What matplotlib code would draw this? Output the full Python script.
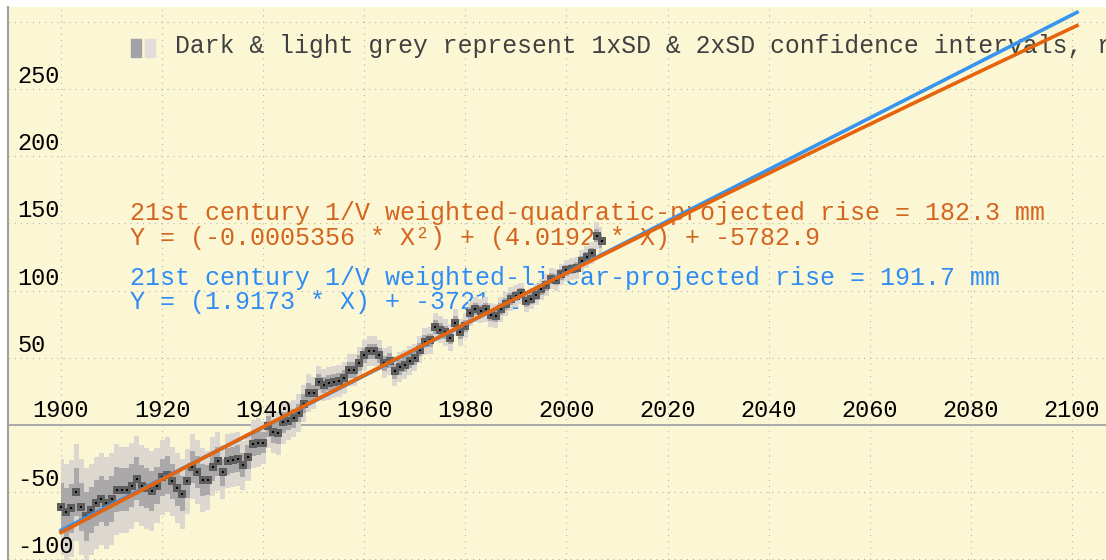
import numpy as np
import matplotlib
matplotlib.use('Agg')
import matplotlib.pyplot as plt
from matplotlib.patches import Rectangle

# annual mean sea level (mm), 1900-2007
years = np.arange(1900, 2008)
sea_level = [
    -61, -65, -62, -50, -61, -68, -63, -58, -55, -58,
    -55, -48, -48, -48, -45, -40, -45, -47, -49, -45,
    -39, -37, -42, -47, -51, -42, -31, -35, -41, -41,
    -31, -27, -35, -27, -26, -25, -30, -24, -14, -13,
    -13, -1, -5, -6, 2, 3, 5, 9, 16, 24,
    24, 32, 30, 31, 32, 33, 35, 41, 41, 46,
    52, 55, 55, 52, 46, 48, 40, 43, 45, 48,
    50, 56, 62, 63, 73, 71, 69, 65, 76, 69,
    74, 83, 86, 85, 86, 82, 81, 86, 90, 94,
    96, 98, 92, 94, 97, 101, 104, 109, 108, 112,
    115, 116, 117, 122, 125, 128, 141, 137,
]
# one standard deviation per year (mm)
sd = [
    18, 18, 18, 18, 18, 18, 17, 17, 17, 17,
    17, 17, 16, 16, 16, 16, 15, 15, 15, 14,
    14, 14, 13, 13, 13, 12, 12, 12, 12, 11,
    11, 11, 10, 10, 10, 10, 9, 9, 9, 9,
    8, 8, 8, 8, 8, 7, 7, 7, 7, 7,
    6, 6, 6, 6, 6, 6, 6, 6, 6, 6,
    5.5, 5.5, 5.5, 5.5, 5.5, 5.5, 5.5, 5.5, 5.5, 5.5,
    5, 5, 5, 5, 5, 5, 5, 5, 5, 5,
    4.5, 4.5, 4.5, 4.5, 4.5, 4.5, 4.5, 4.5, 4.5, 4.5,
    4, 4, 4, 4, 4, 4, 4, 4, 4, 4,
    4, 4, 4, 4, 4, 4, 5, 5,
]

quad_coef = [-0.0005356, 4.0192, -5782.9]
lin_coef = [1.9173, -3721.2]

x_ticks = [1900, 1920, 1940, 1960, 1980, 2000, 2020, 2040, 2060, 2080, 2100]
y_labels = [-100, -50, 50, 100, 150, 200, 250]
y_grid = [-100, -50, 50, 100, 150, 200, 250, 300]

FONT = 'Liberation Mono'
BG = '#fbf7d5'
ORANGE = '#e5640c'
BLUE = '#3895ee'


def ax_pos(px, py):
    # pixel position in the 1106x560 image -> axes fraction
    return (px - 8) / 1098.0, (560 - py) / 553.0


def draw():
    fig = plt.figure(figsize=(11.06, 5.6), dpi=100)
    fig.patch.set_facecolor('white')
    ax = fig.add_axes([8 / 1106.0, 0, 1098 / 1106.0, 553 / 560.0])
    ax.set_facecolor(BG)
    ax.set_xlim(1889.52, 2106.73)
    ax.set_ylim(-100.4, 311.0)

    for s in ['top', 'right', 'bottom']:
        ax.spines[s].set_visible(False)
    ax.spines['left'].set_color('#a0a0a0')
    ax.spines['left'].set_linewidth(1.5)
    ax.set_xticks([])
    ax.set_yticks([])

    # dotted grid
    for x in x_ticks:
        ax.axvline(x, color='#b2b2b2', lw=0.8, ls=(0, (1, 4.5)), zorder=0.5)
    for y in y_grid:
        ax.axhline(y, color='#b2b2b2', lw=0.8, ls=(0, (1, 4.5)), zorder=0.5)
    ax.axhline(0, color='#a8a8a8', lw=1.4, zorder=1)

    # axis labels written inside the plot
    for x in x_ticks:
        ax.annotate(str(x), xy=(x, 0), xytext=(0, 8), textcoords='offset pixels',
                    ha='center', va='baseline', fontsize=17, family=FONT,
                    color='black', zorder=3.5)
    for y in y_labels:
        ax.annotate(str(y), xy=(1889.52, y), xytext=(9, 6), textcoords='offset pixels',
                    ha='left', va='baseline', fontsize=17, family=FONT,
                    color='black', zorder=3.5)

    # fitted curves
    yrs = np.arange(1900, 2102)
    quad = np.polyval(quad_coef, yrs)
    lin = np.polyval(lin_coef, yrs)
    quad_rise = np.polyval(quad_coef, 2100) - np.polyval(quad_coef, 2000)
    lin_rise = np.polyval(lin_coef, 2100) - np.polyval(lin_coef, 2000)

    txt = dict(transform=ax.transAxes, fontsize=18, family=FONT,
               ha='left', va='baseline', zorder=1)
    ax.text(*ax_pos(130, 220),
            '21st century 1/V weighted-quadratic-projected rise = %.1f mm' % quad_rise,
            color='#d3651e', **txt)
    ax.text(*ax_pos(130, 245),
            'Y = (%.7f * X\u00b2) + (%.4f * X) + %.1f' % tuple(quad_coef),
            color='#d3651e', **txt)
    ax.text(*ax_pos(130, 285),
            '21st century 1/V weighted-linear-projected rise = %.1f mm' % lin_rise,
            color='#2f8cf5', **txt)
    ax.text(*ax_pos(130, 309),
            'Y = (%.4f * X) + %.1f' % tuple(lin_coef),
            color='#2f8cf5', **txt)

    # legend note
    ax.add_patch(Rectangle(ax_pos(131, 57), 10 / 1098.0, 18 / 553.0,
                           transform=ax.transAxes, color='#a3a2a8', zorder=1))
    ax.add_patch(Rectangle(ax_pos(145, 57), 10 / 1098.0, 18 / 553.0,
                           transform=ax.transAxes, color='#e2ddd6', zorder=1))
    ax.text(*ax_pos(175, 53),
            'Dark & light grey represent 1xSD & 2xSD confidence intervals, respectively',
            transform=ax.transAxes, fontsize=17.8, family=FONT, color='#404040',
            ha='left', va='baseline', zorder=1, clip_on=True)

    # confidence bands and yearly means
    level = np.array(sea_level, dtype=float)
    err = np.array(sd, dtype=float)
    ax.fill_between(years, level - 2 * err, level + 2 * err, step='mid',
                    color='#dcd8cf', lw=0, zorder=2)
    ax.fill_between(years, level - err, level + err, step='mid',
                    color='#aaa8a9', lw=0, zorder=2.1)
    ax.scatter(years, level, marker='s', s=26, color='#5e5e5e', lw=0, zorder=3)
    ax.scatter(years, level, marker='s', s=4, color='black', lw=0, zorder=3.1)

    ax.plot(yrs, lin, color=BLUE, lw=2.6, zorder=4)
    ax.plot(yrs, quad, color=ORANGE, lw=2.6, zorder=5)

    fig.savefig('out.png', dpi=100, facecolor='white')


if __name__ == "__main__":
    draw()
